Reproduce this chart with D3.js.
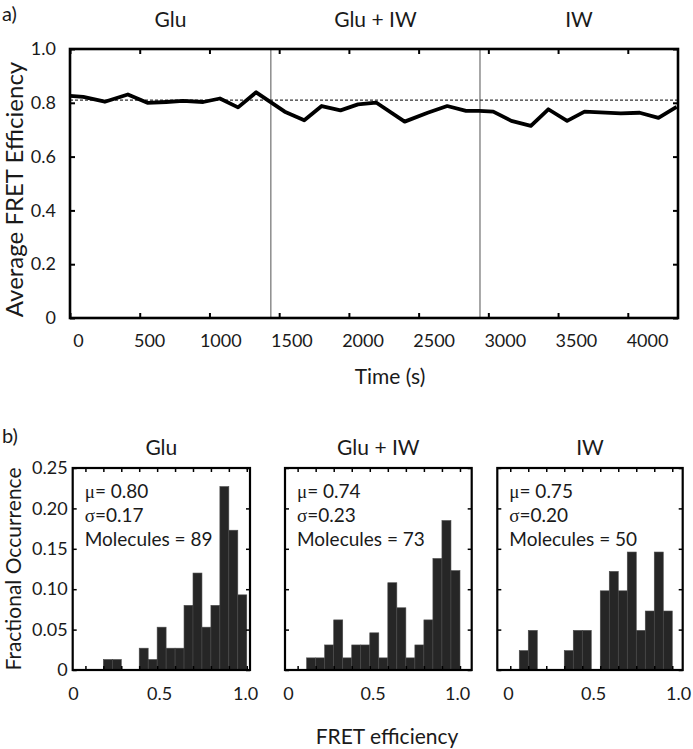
<!DOCTYPE html>
<html><head><meta charset="utf-8">
<script src="https://cdn.jsdelivr.net/npm/d3@7"></script>
<style>
body{margin:0;background:#fff;}
svg text{font-family:Lato,"Open Sans",sans-serif;fill:#1a1a1a;}
</style></head><body>
<svg id="chart" width="693" height="749"></svg>
<script>
// ---------------- data ----------------
const timeSeconds = [0, 95, 250, 415, 555, 690, 810, 955, 1075, 1205, 1335, 1540, 1680, 1805, 1940, 2065, 2195, 2400, 2565, 2705, 2840, 2935, 3035, 3165, 3305, 3430, 3565, 3690, 3950, 4085, 4220, 4350];
const avgFret = [0.826, 0.822, 0.804, 0.831, 0.800, 0.803, 0.807, 0.803, 0.816, 0.783, 0.839, 0.767, 0.735, 0.788, 0.772, 0.794, 0.801, 0.730, 0.763, 0.788, 0.770, 0.770, 0.767, 0.733, 0.714, 0.776, 0.733, 0.767, 0.761, 0.763, 0.744, 0.785];
const phaseNames = ["Glu", "Glu + IW", "IW"];
const phaseBoundaries = [1440, 2940];
const referenceLevel = 0.81;
const timeTicks = [0, 500, 1000, 1500, 2000, 2500, 3000, 3500, 4000];
const effTicks = [0, 0.2, 0.4, 0.6, 0.8, 1.0];

const binStarts = [0.15, 0.20, 0.25, 0.30, 0.35, 0.40, 0.45, 0.50, 0.55, 0.60, 0.65, 0.70, 0.75, 0.80, 0.85, 0.90, 0.95];
const binWidth = 0.05;
const gluFrac   = [0, 0.013, 0.013, 0, 0, 0.027, 0.013, 0.053, 0.027, 0.027, 0.080, 0.120, 0.053, 0.080, 0.227, 0.173, 0.093];
const gluIwFrac = [0.015, 0.015, 0.031, 0.062, 0.015, 0.031, 0.031, 0.046, 0.015, 0.108, 0.077, 0.015, 0.031, 0.062, 0.138, 0.185, 0.123];
const iwFrac    = [0.024, 0.049, 0, 0, 0, 0.024, 0.049, 0.049, 0, 0.098, 0.122, 0.098, 0.146, 0.049, 0.073, 0.146, 0.073];
const histMeans = ["0.80", "0.74", "0.75"];
const histSigmas = ["0.17", "0.23", "0.20"];
const histMolecules = [89, 73, 50];
const fracTicks = [0, 0.05, 0.10, 0.15, 0.20, 0.25];
const effHistTicks = [0.1, 0.2, 0.3, 0.4, 0.5, 0.6, 0.7, 0.8, 0.9, 1.0];
const effHistLabels = [0, 0.5, 1.0];

// ---------------- layout ----------------
const svg = d3.select("#chart");
const FONT = 18;
const topBox = {left: 70, right: 678, top: 49, bottom: 318};
const x = d3.scaleLinear().domain([0, 4360]).range([topBox.left, topBox.right]);
const xLab = d3.scaleLinear().domain([0, 4000]).range([78, 647]);
const y = d3.scaleLinear().domain([0, 1]).range([topBox.bottom, topBox.top]);

function clean(sel){ sel.select(".domain").remove(); }

// panel labels
svg.append("text").attr("x", 2).attr("y", 21).attr("font-size", 20).text("a)");
svg.append("text").attr("x", 2).attr("y", 443).attr("font-size", 20).text("b)");

// phase titles
const phaseEdges = [0, ...phaseBoundaries, 4360];
svg.selectAll("text.phase").data(phaseNames).join("text").attr("class", "phase")
  .attr("x", (d, i) => (x(phaseEdges[i]) + x(phaseEdges[i + 1])) / 2)
  .attr("y", 27).attr("text-anchor", "middle").attr("font-size", 21).text(d => d);

const gTop = svg.append("g");
gTop.selectAll("line.bound").data(phaseBoundaries).join("line").attr("class", "bound")
  .attr("x1", d => x(d)).attr("x2", d => x(d)).attr("y1", topBox.top).attr("y2", topBox.bottom)
  .attr("stroke", "#8c8c8c").attr("stroke-width", 1.5);
gTop.append("line").attr("x1", topBox.left).attr("x2", topBox.right)
  .attr("y1", y(referenceLevel)).attr("y2", y(referenceLevel))
  .attr("stroke", "#333").attr("stroke-width", 1.1).attr("stroke-dasharray", "3,2");
gTop.append("path").datum(d3.zip(timeSeconds, avgFret))
  .attr("d", d3.line().x(d => x(d[0])).y(d => y(d[1])))
  .attr("fill", "none").attr("stroke", "#000").attr("stroke-width", 3.8).attr("stroke-linejoin", "round");

// axes (inward ticks)
gTop.append("g").attr("transform", `translate(0,${topBox.bottom})`)
  .call(d3.axisBottom(x).tickValues(timeTicks).tickSize(-5).tickFormat("")).call(clean);
gTop.append("g").attr("transform", `translate(0,${topBox.top})`)
  .call(d3.axisTop(x).tickValues(timeTicks).tickSize(-5).tickFormat("")).call(clean);
gTop.append("g").attr("transform", `translate(${topBox.right},0)`)
  .call(d3.axisRight(y).tickValues(effTicks).tickSize(-5).tickFormat("")).call(clean);
gTop.append("g").attr("transform", `translate(${topBox.left},0)`)
  .call(d3.axisLeft(y).tickValues(effTicks).tickSize(-5).tickPadding(14)
    .tickFormat(d => d === 0 ? "0" : d3.format(".1f")(d)))
  .call(clean).call(s => s.selectAll("text").attr("font-size", FONT).attr("font-family", "Lato"));
gTop.append("g").attr("transform", `translate(0,${topBox.bottom})`)
  .call(d3.axisBottom(xLab).tickValues(timeTicks).tickSize(0).tickPadding(16).tickFormat(d3.format("d")))
  .call(clean).call(s => s.selectAll("text").attr("font-size", FONT).attr("font-family", "Lato"));
gTop.selectAll(".tick line").attr("stroke", "#000").attr("stroke-width", 2);
gTop.append("rect").attr("x", topBox.left).attr("y", topBox.top)
  .attr("width", topBox.right - topBox.left).attr("height", topBox.bottom - topBox.top)
  .attr("fill", "none").attr("stroke", "#000").attr("stroke-width", 2.6);

svg.append("text").attr("transform", `translate(23,${(topBox.top + topBox.bottom) / 2 + 6}) rotate(-90)`)
  .attr("text-anchor", "middle").attr("font-size", 24).text("Average FRET Efficiency");
svg.append("text").attr("x", 390).attr("y", 384).attr("text-anchor", "middle").attr("font-size", 21).text("Time (s)");

// ---------------- histograms ----------------
const histBox = {top: 468, bottom: 670};
const histPanels = [
  {left: 72.7, right: 250, dom: [0.029, 1.018], lab: [73, 245]},
  {left: 285, right: 471.7, dom: [0.030, 1.065], lab: [288, 457]},
  {left: 497.3, right: 682.7, dom: [0.028, 1.058], lab: [508, 678]}
];
const histData = [gluFrac, gluIwFrac, iwFrac];
const yh = d3.scaleLinear().domain([0, 0.25]).range([histBox.bottom, histBox.top]);

histPanels.forEach((p, i) => {
  const xh = d3.scaleLinear().domain(p.dom).range([p.left, p.right]);
  const xhl = d3.scaleLinear().domain([0, 1]).range(p.lab);
  const g = svg.append("g");
  g.selectAll("rect.bar").data(d3.zip(binStarts, histData[i]).filter(d => d[1] > 0)).join("rect")
    .attr("class", "bar")
    .attr("x", d => xh(d[0])).attr("width", d => xh(d[0] + binWidth) - xh(d[0]))
    .attr("y", d => yh(d[1])).attr("height", d => yh(0) - yh(d[1]))
    .attr("fill", "#262626").attr("stroke", "#4a4a4a").attr("stroke-width", 0.6);
  const ticksIn = effHistTicks.filter(t => t >= p.dom[0] && t <= p.dom[1]);
  g.append("g").attr("transform", `translate(0,${histBox.bottom})`)
    .call(d3.axisBottom(xh).tickValues(ticksIn).tickSize(-4).tickFormat("")).call(clean);
  g.append("g").attr("transform", `translate(0,${histBox.top})`)
    .call(d3.axisTop(xh).tickValues(ticksIn).tickSize(-4).tickFormat("")).call(clean);
  g.append("g").attr("transform", `translate(${p.right},0)`)
    .call(d3.axisRight(yh).tickValues(fracTicks).tickSize(-4).tickFormat("")).call(clean);
  g.append("g").attr("transform", `translate(${p.left},0)`)
    .call(d3.axisLeft(yh).tickValues(fracTicks).tickSize(-4).tickPadding(5)
      .tickFormat(d => i === 0 ? (d === 0 ? "0" : d3.format(".2f")(d)) : ""))
    .call(clean).call(s => s.selectAll("text").attr("font-size", FONT).attr("font-family", "Lato"));
  g.append("g").attr("transform", `translate(0,${histBox.bottom})`)
    .call(d3.axisBottom(xhl).tickValues(effHistLabels).tickSize(0).tickPadding(17)
      .tickFormat(d => d === 0 ? "0" : d3.format(".1f")(d)))
    .call(clean).call(s => s.selectAll("text").attr("font-size", FONT).attr("font-family", "Lato"));
  g.selectAll(".tick line").attr("stroke", "#000").attr("stroke-width", 1.5);
  g.append("rect").attr("x", p.left).attr("y", histBox.top)
    .attr("width", p.right - p.left).attr("height", histBox.bottom - histBox.top)
    .attr("fill", "none").attr("stroke", "#000").attr("stroke-width", 2.2);

  // title
  svg.append("text").attr("x", (p.left + p.right) / 2).attr("y", 455)
    .attr("text-anchor", "middle").attr("font-size", 21).text(phaseNames[i]);

  // stats
  const tx = p.left + 12;
  const t1 = svg.append("text").attr("x", tx).attr("y", 498).attr("font-size", 19);
  t1.append("tspan").attr("font-family", "Liberation Serif").text("\u03bc");
  t1.append("tspan").text("= " + histMeans[i]);
  const t2 = svg.append("text").attr("x", tx).attr("y", 522).attr("font-size", 19);
  t2.append("tspan").attr("font-family", "Liberation Serif").text("\u03c3");
  t2.append("tspan").text("=" + histSigmas[i]);
  svg.append("text").attr("x", tx).attr("y", 546).attr("font-size", 19).text("Molecules = " + histMolecules[i]);
});

svg.append("text").attr("transform", `translate(21,${(histBox.top + histBox.bottom) / 2}) rotate(-90)`)
  .attr("text-anchor", "middle").attr("font-size", 21).text("Fractional Occurrence");
svg.append("text").attr("x", 387).attr("y", 744).attr("text-anchor", "middle").attr("font-size", 21).text("FRET efficiency");
</script>
</body></html>
